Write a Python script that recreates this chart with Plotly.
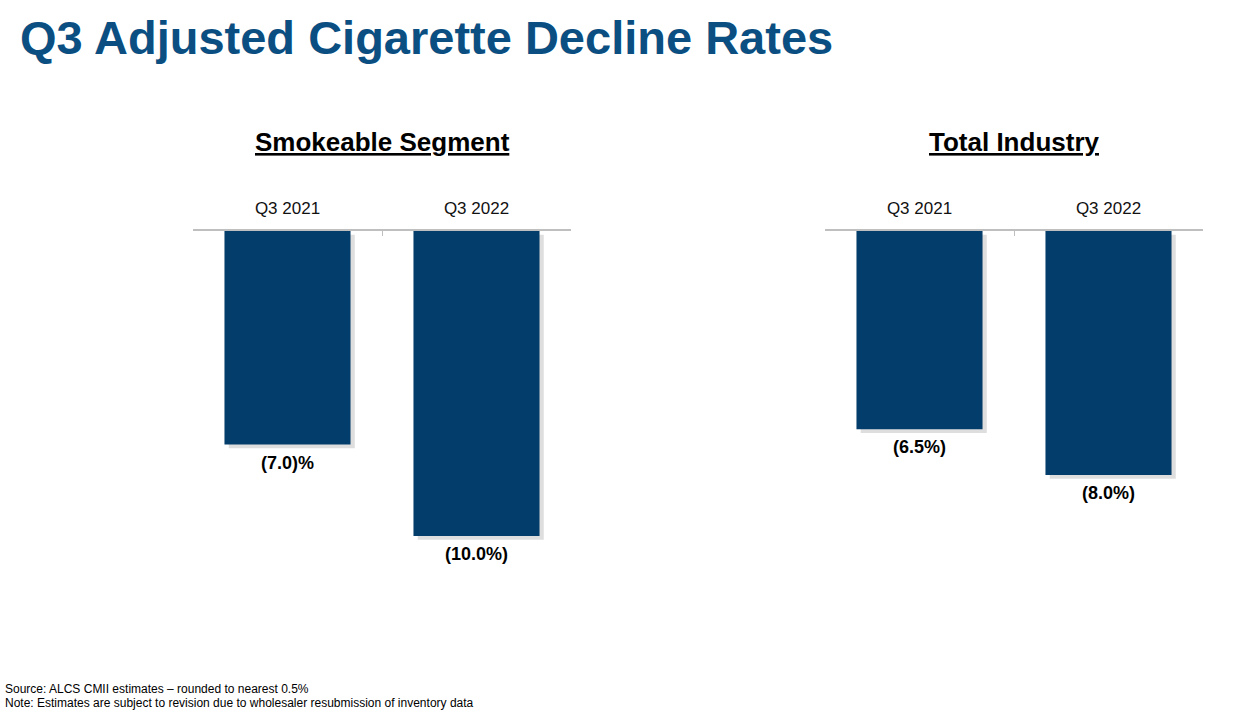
import plotly.graph_objects as go
from plotly.subplots import make_subplots

# values (percent decline, shown negative)
quarters = ["Q3 2021", "Q3 2022"]
smokeable = [-7.0, -10.0]
industry = [-6.5, -8.0]
smokeable_labels = ["(7.0)%", "(10.0%)"]
industry_labels = ["(6.5%)", "(8.0%)"]
panel_titles = ["Smokeable Segment", "Total Industry"]
footnotes = ["Source: ALCS CMII estimates – rounded to nearest 0.5%",
             "Note: Estimates are subject to revision due to wholesaler resubmission of inventory data"]

W, H = 1245, 713
bar_col = "#023d6b"
shadow_col = "rgba(0,0,0,0.13)"
font = "Liberation Sans, Arial, sans-serif"

fig = make_subplots(rows=1, cols=2)

panels = [(smokeable, smokeable_labels), (industry, industry_labels)]
for i, (vals, labels) in enumerate(panels):
    col = i + 1
    # soft drop shadow behind each bar
    fig.add_trace(go.Bar(x=quarters, y=vals, base=[-0.12] * len(vals),
                         width=0.667, offset=-0.333 + 0.022,
                         marker=dict(color=shadow_col, line=dict(width=0)),
                         hoverinfo="skip", showlegend=False), row=1, col=col)
    fig.add_trace(go.Bar(x=quarters, y=vals, width=0.667,
                         marker=dict(color=bar_col, line=dict(width=0)),
                         showlegend=False), row=1, col=col)
    xref = "x" if col == 1 else "x2"
    yref = "y" if col == 1 else "y2"
    for q, v, lab in zip(quarters, vals, labels):
        fig.add_annotation(x=q, y=v, xref=xref, yref=yref, text="<b>%s</b>" % lab,
                           showarrow=False, yshift=-18, yanchor="middle",
                           font=dict(size=18, color="black", family=font))

left = [193 / W, 571 / W]
right = [825 / W, 1203 / W]
ydom = [1 - 597 / H, 1 - 231 / H]

axis_x = dict(side="top", showline=True, linecolor="#bfbfbf", linewidth=1.5,
              ticks="inside", ticklen=5, tickcolor="#bfbfbf", tickson="boundaries",
              showgrid=False, zeroline=False, ticklabelstandoff=8,
              tickfont=dict(size=17, color="#111111", family=font))
axis_y = dict(range=[-12, 0], visible=False, showgrid=False, zeroline=False)

fig.update_layout(
    xaxis=dict(domain=left, **axis_x),
    xaxis2=dict(domain=right, **axis_x),
    yaxis=dict(domain=ydom, **axis_y),
    yaxis2=dict(domain=ydom, **axis_y),
    barmode="overlay",
    width=W, height=H,
    margin=dict(l=0, r=0, t=0, b=0),
    plot_bgcolor="white", paper_bgcolor="white",
    font=dict(family=font),
)

# slide title
fig.add_annotation(x=18 / W, y=1 - 38 / H, xref="paper", yref="paper",
                   xanchor="left", yanchor="middle", showarrow=False,
                   text="<b>Q3 Adjusted Cigarette Decline Rates</b>",
                   font=dict(size=47, color="#0b4f82", family=font))

# panel headings
for dom, t in zip([left, right], panel_titles):
    fig.add_annotation(x=(dom[0] + dom[1]) / 2, y=1 - 142 / H, xref="paper", yref="paper",
                       xanchor="center", yanchor="middle", showarrow=False,
                       text="<b><u>%s</u></b>" % t,
                       font=dict(size=26, color="black", family=font))

for yy, t in zip([689, 703], footnotes):
    fig.add_annotation(x=3 / W, y=1 - yy / H, xref="paper", yref="paper",
                       xanchor="left", yanchor="middle", showarrow=False,
                       text=t, font=dict(size=12, color="black", family=font))

# drop the default page margin so the figure sits at the window corner
fig.write_html("out.html", config={"displayModeBar": False},
               post_script="document.body.style.margin='0';")
